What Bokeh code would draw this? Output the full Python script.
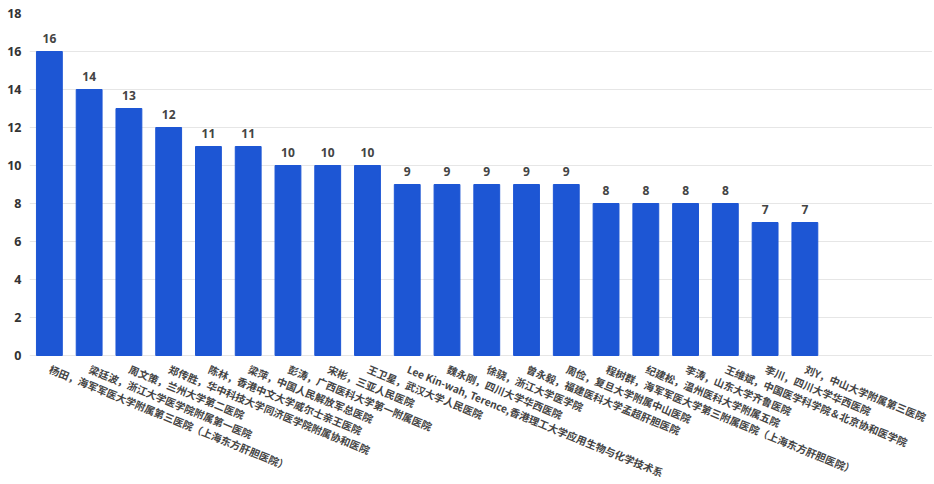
from bokeh.plotting import figure
from bokeh.models import Range1d, FixedTicker, ColumnDataSource
from bokeh.core.properties import value
from bokeh.embed import file_html
from bokeh.resources import INLINE
import math

names = [
    "杨田，海军军医大学附属第三医院（上海东方肝胆医院）",
    "梁廷波，浙江大学医学院附属第一医院",
    "周文策，兰州大学第二医院",
    "郑传胜，华中科技大学同济医学院附属协和医院",
    "陈林，香港中文大学威尔士亲王医院",
    "梁萍，中国人民解放军总医院",
    "彭涛，广西医科大学第一附属医院",
    "宋彬，三亚人民医院",
    "王卫星，武汉大学人民医院",
    "Lee Kin-wah, Terence,香港理工大学应用生物与化学技术系",
    "魏永刚，四川大学华西医院",
    "徐骁，浙江大学医学院",
    "曾永毅，福建医科大学孟超肝胆医院",
    "周俭，复旦大学附属中山医院",
    "程树群，海军军医大学第三附属医院（上海东方肝胆医院）",
    "纪建松，温州医科大学附属五院",
    "李涛，山东大学齐鲁医院",
    "王维斌，中国医学科学院＆北京协和医学院",
    "李川，四川大学华西医院",
    "刘Y，中山大学附属第三医院",
]
counts = [16, 14, 13, 12, 11, 11, 10, 10, 10, 9, 9, 9, 9, 9, 8, 8, 8, 8, 7, 7]
y_ticks = [0, 2, 4, 6, 8, 10, 12, 14, 16, 18]

xs = list(range(1, len(names) + 1))
src = ColumnDataSource(dict(x=xs, y=counts, lab=[str(c) for c in counts]))
cat_src = ColumnDataSource(dict(x=xs, y=[0] * len(xs), name=names))

# frame spans the label band too, so the rotated category labels are real text inside it
p = figure(width=932, height=482, output_backend="svg", toolbar_location=None,
           x_range=Range1d(0.5, 23.21), y_range=Range1d(-6.684, 18),
           min_border_left=29, min_border_top=13, min_border_right=0, min_border_bottom=0)
p.outline_line_color = None
p.background_fill_color = "white"
p.border_fill_color = "white"

p.vbar(x="x", top="y", bottom=0, width=0.65, source=src, color="#1d56d4")
p.text(x="x", y="y", text="lab", source=src, y_offset=-9,
       text_align="center", text_baseline="bottom",
       text_font=value("Open Sans"), text_font_style="bold",
       text_font_size="12px", text_color="#444444")

p.text(x="x", y="y", text="name", source=cat_src, x_offset=3.5, y_offset=6,
       angle=-math.radians(22.3), text_align="left", text_baseline="top",
       text_font=value("Noto Sans CJK SC"), text_font_style="bold",
       text_font_size="10.3px", text_color="#444444")

p.xaxis.visible = False

p.yaxis.ticker = FixedTicker(ticks=y_ticks)
p.yaxis.axis_line_color = None
p.yaxis.major_tick_line_color = None
p.yaxis.minor_tick_line_color = None
p.yaxis.major_tick_out = 0
p.yaxis.major_tick_in = 0
p.yaxis.major_label_text_font = "Open Sans"
p.yaxis.major_label_text_font_style = "bold"
p.yaxis.major_label_text_font_size = "12.5px"
p.yaxis.major_label_text_color = "#333333"
p.yaxis.major_label_standoff = 8

p.xgrid.grid_line_color = None
p.ygrid.grid_line_color = "#e6e6e6"

open("out.html", "w").write(file_html(p, INLINE))
